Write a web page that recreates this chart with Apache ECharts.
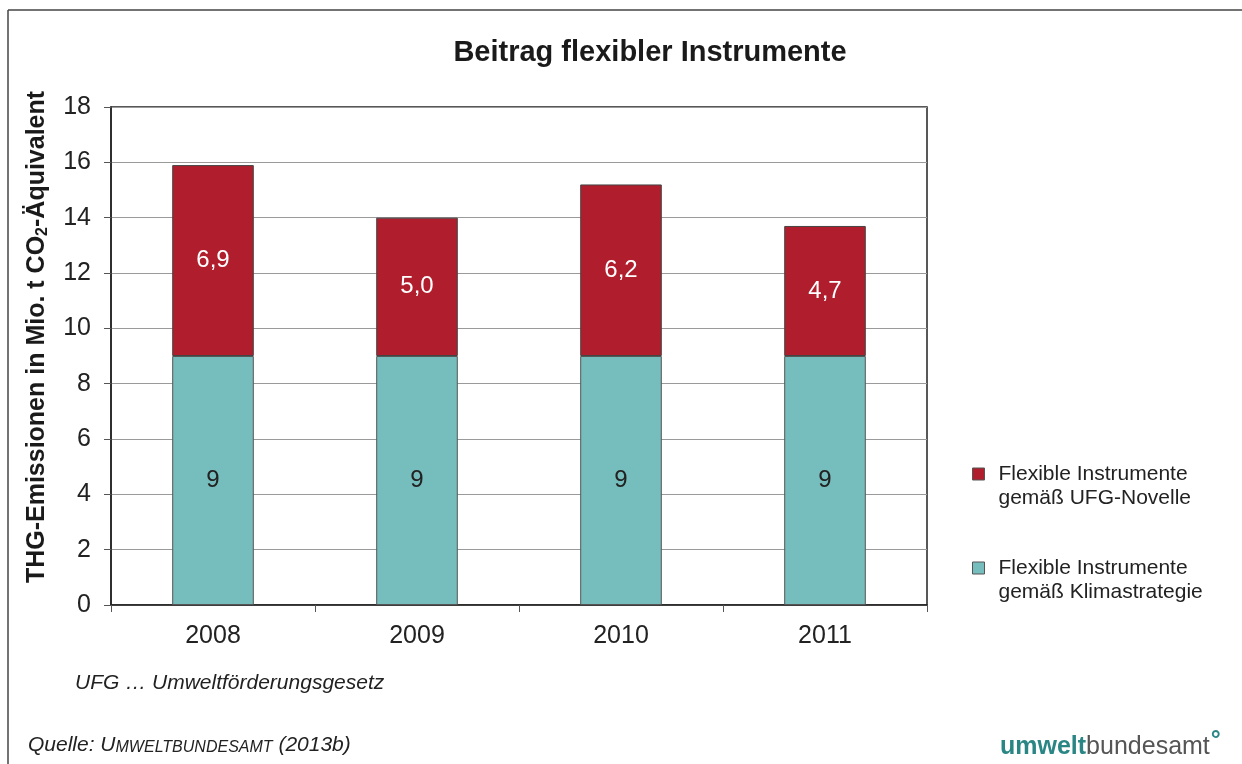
<!DOCTYPE html>
<html>
<head>
<meta charset="utf-8">
<script src="https://cdn.jsdelivr.net/npm/echarts@6/dist/echarts.min.js"></script>
<style>
  html, body { margin: 0; padding: 0; background: #fff; }
  #chart { width: 1242px; height: 764px; }
</style>
</head>
<body>
<div id="chart"></div>
<script>
  // Daten
  var years = ["2008", "2009", "2010", "2011"];
  var klimastrategie = [9, 9, 9, 9];
  var ufgNovelle = [6.9, 5.0, 6.2, 4.7];
  var yTicks = [0, 2, 4, 6, 8, 10, 12, 14, 16, 18];

  var font = "Liberation Sans, Arial, sans-serif";
  var myChart = echarts.init(document.getElementById("chart"));

  var option = {
    backgroundColor: "#fff",
    animation: false,
    title: {
      text: "Beitrag flexibler Instrumente",
      left: 645,
      top: 33,
      textAlign: "center",
      textStyle: { fontFamily: font, fontSize: 29, fontWeight: "bold", color: "#1a1a1a" }
    },
    legend: {
      orient: "vertical",
      left: 967,
      top: 433,
      itemWidth: 12,
      itemHeight: 12,
      itemGap: 22,
      icon: "rect",
      data: ["Flexible Instrumente\ngemäß UFG-Novelle", "Flexible Instrumente\ngemäß Klimastrategie"],
      // leere Zeile davor, damit das Kästchen auf Höhe der ersten Zeile steht
      formatter: function (name) { return "\n" + name; },
      textStyle: { fontFamily: font, fontSize: 21, color: "#222", lineHeight: 24, padding: [0, 0, 0, 9] },
      itemStyle: { borderColor: "#555", borderWidth: 1 }
    },
    grid: { left: 111, right: 315, top: 107, bottom: 159, show: true, borderColor: "#222", borderWidth: 1.5 },
    xAxis: {
      type: "category",
      data: years,
      axisLine: { lineStyle: { color: "#222", width: 1.5 } },
      axisTick: { show: true, length: 7, lineStyle: { color: "#555" } },
      axisLabel: { fontFamily: font, fontSize: 25, color: "#222", margin: 19 }
    },
    yAxis: {
      type: "value",
      min: 0,
      max: 18,
      interval: 2,
      axisLine: { show: true, lineStyle: { color: "#222", width: 1.5 } },
      axisTick: { show: true, length: 7, lineStyle: { color: "#555" } },
      axisLabel: {
        fontFamily: font, fontSize: 25, color: "#222", margin: 20,
        formatter: function (v) { return yTicks.indexOf(v) >= 0 ? String(v) : ""; }
      },
      splitLine: { lineStyle: { color: "#9a9a9a", width: 1 } }
    },
    series: [
      {
        name: "Flexible Instrumente\ngemäß Klimastrategie",
        type: "bar",
        stack: "gesamt",
        barWidth: "40%",
        data: klimastrategie,
        itemStyle: { color: "#76BDBD", borderColor: "#555", borderWidth: 1 },
        label: {
          show: true, position: "inside", fontFamily: font, fontSize: 24, color: "#222",
          formatter: function (p) { return String(p.value); }
        }
      },
      {
        name: "Flexible Instrumente\ngemäß UFG-Novelle",
        type: "bar",
        stack: "gesamt",
        data: ufgNovelle,
        itemStyle: { color: "#B01E2D", borderColor: "#444", borderWidth: 1 },
        label: {
          show: true, position: "inside", fontFamily: font, fontSize: 24, color: "#fff",
          formatter: function (p) { return p.value.toFixed(1).replace(".", ","); }
        }
      }
    ],
    graphic: [
      // Rahmen
      { type: "line", shape: { x1: 8, y1: 10, x2: 8, y2: 764 }, style: { stroke: "#444", lineWidth: 1.5 } },
      { type: "line", shape: { x1: 8, y1: 10, x2: 1242, y2: 10 }, style: { stroke: "#444", lineWidth: 1.5 } },
      // Achsentitel
      {
        type: "text", x: 37, y: 337, rotation: Math.PI / 2,
        style: {
          text: "THG-Emissionen in Mio. t CO{sub|2}-Äquivalent",
          font: "bold 25px " + font, fill: "#1a1a1a",
          align: "center", verticalAlign: "middle",
          rich: { sub: { font: "bold 16px " + font, fill: "#1a1a1a", padding: [12, 0, 0, 0] } }
        }
      },
      {
        type: "text", left: 75, top: 673,
        style: { text: "UFG … Umweltförderungsgesetz", font: "italic 21px " + font, fill: "#222" }
      },
      {
        type: "text", left: 28, top: 735,
        style: {
          text: "Quelle: U{sc|MWELTBUNDESAMT} (2013b)",
          font: "italic 21px " + font, fill: "#222",
          rich: { sc: { font: "italic 16px " + font, fill: "#222", padding: [4, 0, 0, 0] } }
        }
      },
      {
        type: "text", left: 1000, top: 729,
        style: {
          text: "{a|umwelt}{b|bundesamt}{c|°}",
          rich: {
            a: { font: "bold 25px " + font, fill: "#2a8585" },
            b: { font: "25px " + font, fill: "#555" },
            c: { font: "bold 25px " + font, fill: "#2a8585", padding: [0, 0, 12, 1] }
          }
        }
      }
    ]
  };

  myChart.setOption(option);
</script>
</body>
</html>
